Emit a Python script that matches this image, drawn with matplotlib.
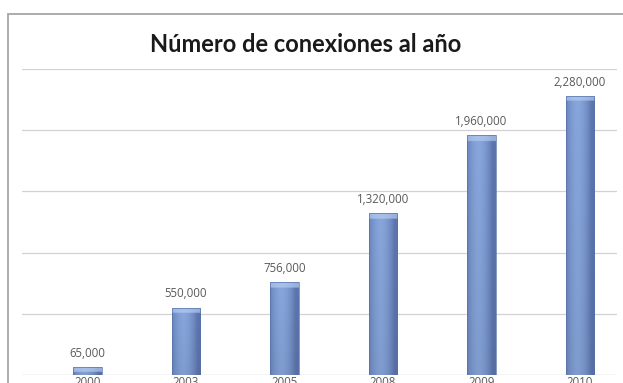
import matplotlib
matplotlib.use("Agg")
import matplotlib.pyplot as plt
import numpy as np
from matplotlib.patches import Rectangle


# ---------------------------------------------------------
# DATI
# ---------------------------------------------------------
anni = ["2000", "2003", "2005", "2008", "2009", "2010"]
conexiones = [65000, 550000, 756000, 1320000, 1960000, 2280000]
etiquette = ["65,000", "550,000", "756,000", "1,320,000", "1,960,000", "2,280,000"]
titolo = "Número de conexiones al año"


# ---------------------------------------------------------
# GRADIENTE BARRE
# ---------------------------------------------------------
def bar_gradient(altezza, cap_data):
    rows, cols = 200, 40
    u = np.linspace(0, 1, cols)
    # piu' scuro ai bordi, chiaro al centro (effetto cilindro)
    h = 1 - np.abs(2 * u - 0.8) ** 1.8
    h = np.clip(h, 0, 1)
    dark = np.array([0.36, 0.46, 0.68])
    light = np.array([0.53, 0.65, 0.86])
    row = dark[None, :] + (light - dark)[None, :] * h[:, None]
    img = np.repeat(row[None, :, :], rows, axis=0)

    v = np.linspace(0, 1, rows)[:, None, None]
    img = img * (0.94 + 0.06 * v)

    cap = min(cap_data / altezza, 0.6)
    top = v[:, 0, 0] > 1 - cap
    cap_col = np.array([0.72, 0.81, 0.95])
    img[top] = img[top] * 0.35 + cap_col[None, :] * 0.65
    return np.clip(img, 0, 1)


fig = plt.figure(figsize=(6.23, 3.83), dpi=100)
fig.patch.set_facecolor("white")

W, H = 623.0, 383.0

# cornice del grafico
fig.patches.append(Rectangle((8 / W, -0.2), 2.0, (H - 14) / H + 0.2,
                             transform=fig.transFigure, fill=False,
                             edgecolor="#a6a6a6", linewidth=1.3))

ax = fig.add_axes([22 / W, 8 / H, 595 / W, 306 / H])

x = np.arange(len(anni))
larg = 0.29
bars = ax.bar(x, conexiones, width=larg, color="none",
              edgecolor="#5672a8", linewidth=0.5, zorder=3)

cap_data = 45000
for b, val in zip(bars, conexiones):
    x0 = b.get_x()
    img = bar_gradient(val, cap_data)
    im = ax.imshow(img, extent=(x0, x0 + b.get_width(), 0, val),
                   origin="lower", aspect="auto", zorder=2,
                   interpolation="bilinear")
    im.set_clip_path(b)

# etichette dati
for xi, val, lab in zip(x, conexiones, etiquette):
    ax.text(xi, val + 60000, lab, ha="center", va="bottom",
            fontsize=8.3, color="#595959", family="Open Sans")

ax.set_xlim(-0.665, 5.375)
ax.set_ylim(0, 2500000)

for g in np.arange(0, 2500001, 500000):
    ax.axhline(g, color="#d2d2d2" if g > 0 else "#b4b4b4",
               linewidth=0.9, zorder=1)

for s in ax.spines.values():
    s.set_visible(False)
ax.set_yticks([])
ax.set_xticks(x)
ax.set_xticklabels(anni, fontsize=8.3, color="#595959", family="Open Sans")
ax.tick_params(axis="x", length=0, pad=1)

fig.text(306 / W, 1 - 44 / H, titolo, ha="center", va="center",
         fontsize=17, fontweight="bold", family="Lato", color="#1a1a1a")

fig.savefig("out.png", dpi=100)
